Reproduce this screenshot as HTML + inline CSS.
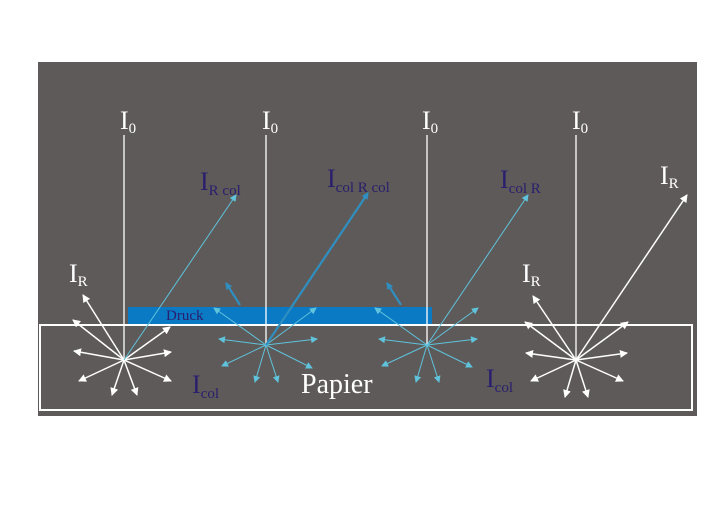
<!DOCTYPE html>
<html><head><meta charset="utf-8"><style>html,body{margin:0;padding:0;background:#fff}svg{display:block}</style></head><body>
<svg width="724" height="512" viewBox="0 0 724 512" xmlns="http://www.w3.org/2000/svg" font-family="Liberation Serif, serif">
<defs>
<marker id="w" markerWidth="8" markerHeight="8" refX="7" refY="4" orient="auto" markerUnits="userSpaceOnUse"><path d="M0,0 L8,4 L0,8 Z" fill="#fff"/></marker>
<marker id="b" markerWidth="7" markerHeight="7" refX="6" refY="3.5" orient="auto" markerUnits="userSpaceOnUse"><path d="M0,0 L7,3.5 L0,7 Z" fill="#5fc3dc"/></marker>
<marker id="d" markerWidth="7" markerHeight="7" refX="6" refY="3.5" orient="auto" markerUnits="userSpaceOnUse"><path d="M0,0 L7,3.5 L0,7 Z" fill="#2f8fc0"/></marker>
</defs>
<rect x="38" y="62" width="659" height="354" fill="#5e5a59"/>
<rect x="128" y="307" width="304" height="17" fill="#0a7ac4"/>
<rect x="40" y="325" width="652" height="85" fill="none" stroke="#fff" stroke-width="2"/>
<g stroke="#fff" stroke-width="1.3">
<line x1="124" y1="135" x2="124" y2="360"/><line x1="266" y1="135" x2="266" y2="345"/>
<line x1="427" y1="135" x2="427" y2="345"/><line x1="576" y1="135" x2="576" y2="360"/>
</g>
<g stroke="#fff" stroke-width="1.5" marker-end="url(#w)">
<line x1="124" y1="360" x2="83" y2="295"/><line x1="124" y1="360" x2="73" y2="320"/>
<line x1="124" y1="360" x2="170" y2="327"/><line x1="124" y1="360" x2="74" y2="351"/>
<line x1="124" y1="360" x2="171" y2="352"/><line x1="124" y1="360" x2="79" y2="381"/>
<line x1="124" y1="360" x2="171" y2="381"/><line x1="124" y1="360" x2="112" y2="395"/>
<line x1="124" y1="360" x2="137" y2="395"/>
<line x1="576" y1="360" x2="533" y2="296"/><line x1="576" y1="360" x2="525" y2="322"/>
<line x1="576" y1="360" x2="628" y2="322"/><line x1="576" y1="360" x2="526" y2="353"/>
<line x1="576" y1="360" x2="627" y2="353"/><line x1="576" y1="360" x2="531" y2="381"/>
<line x1="576" y1="360" x2="623" y2="381"/><line x1="576" y1="360" x2="565" y2="397"/>
<line x1="576" y1="360" x2="588" y2="397"/>
<line x1="576" y1="360" x2="687" y2="195"/>
</g>
<g stroke="#5fc3dc" stroke-width="1" marker-end="url(#b)">
<line x1="124" y1="360" x2="236" y2="195"/>
<line x1="266" y1="345" x2="214" y2="308"/><line x1="266" y1="345" x2="219" y2="339"/>
<line x1="266" y1="345" x2="317" y2="339"/><line x1="266" y1="345" x2="222" y2="366"/>
<line x1="266" y1="345" x2="312" y2="368"/><line x1="266" y1="345" x2="255" y2="382"/>
<line x1="266" y1="345" x2="278" y2="382"/><line x1="266" y1="345" x2="316" y2="308"/>
<line x1="427" y1="345" x2="375" y2="308"/><line x1="427" y1="345" x2="379" y2="339"/>
<line x1="427" y1="345" x2="477" y2="339"/><line x1="427" y1="345" x2="382" y2="366"/>
<line x1="427" y1="345" x2="472" y2="367"/><line x1="427" y1="345" x2="416" y2="382"/>
<line x1="427" y1="345" x2="439" y2="382"/><line x1="427" y1="345" x2="478" y2="308"/>
<line x1="427" y1="345" x2="528" y2="195"/>
</g>
<g stroke="#2f8fc0" stroke-width="2.2" marker-end="url(#d)">
<line x1="266" y1="345" x2="368" y2="193"/>
<line x1="240" y1="305" x2="226" y2="283"/>
<line x1="401" y1="305" x2="387" y2="283"/>
</g>
<g fill="#fff" font-size="26">
<text x="120" y="129">I<tspan font-size="15" dy="4">0</tspan></text>
<text x="262" y="129">I<tspan font-size="15" dy="4">0</tspan></text>
<text x="422" y="129">I<tspan font-size="15" dy="4">0</tspan></text>
<text x="572" y="129">I<tspan font-size="15" dy="4">0</tspan></text>
<text x="660" y="184">I<tspan font-size="15" dy="4">R</tspan></text>
<text x="69" y="282">I<tspan font-size="15" dy="4">R</tspan></text>
<text x="522" y="282">I<tspan font-size="15" dy="4">R</tspan></text>
<text x="301" y="393" font-size="28">Papier</text>
</g>
<g fill="#2a1e6e" font-size="26">
<text x="200" y="190">I<tspan font-size="15" dy="5">R col</tspan></text>
<text x="327" y="187">I<tspan font-size="15" dy="5">col R col</tspan></text>
<text x="500" y="188">I<tspan font-size="15" dy="5">col R</tspan></text>
<text x="192" y="393">I<tspan font-size="15" dy="5">col</tspan></text>
<text x="486" y="387">I<tspan font-size="15" dy="5">col</tspan></text>
<text x="166" y="320" font-size="15">Druck</text>
</g>
</svg>
</body></html>
